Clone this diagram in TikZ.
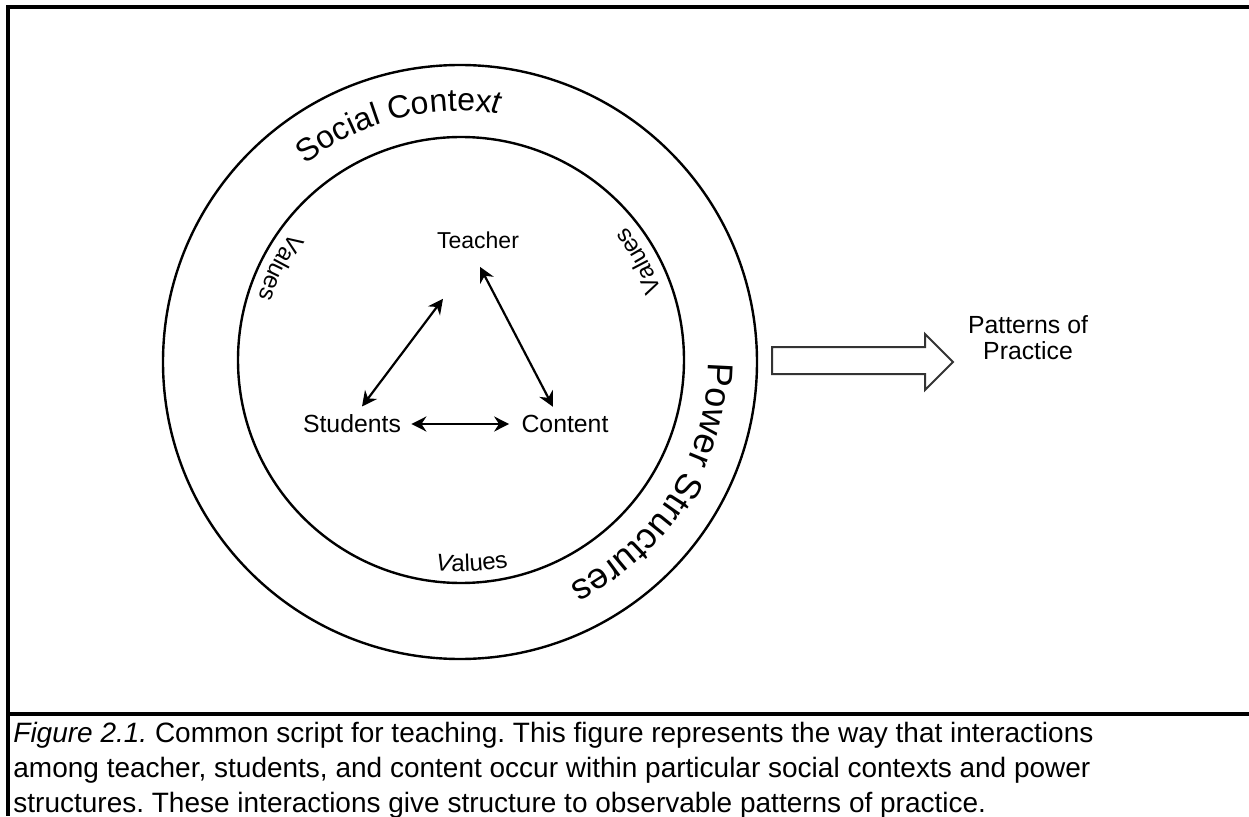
\documentclass[tikz,border=0pt]{standalone}
\usepackage{fontspec}
\setmainfont{Liberation Sans}
\usetikzlibrary{arrows.meta,decorations.text,calc}
\newcommand\ringfont{\fontsize{16}{18}\selectfont}
\newcommand\powerfont{\fontsize{18}{20}\selectfont}
\newcommand\valfont{\fontsize{12}{14}\selectfont}
\frenchspacing
\begin{document}
\begin{tikzpicture}[x=0.5pt,y=0.5pt,
  ring/.style={line width=1.2pt},
  lbl/.style={font=\fontsize{12.4}{14}\selectfont, inner sep=1pt},
  link/.style={line width=1.1pt, {Stealth[length=7.5pt,width=7.5pt]}-{Stealth[length=7.5pt,width=7.5pt]}},
  frame/.style={line width=2pt},
  bigarrow/.style={draw=black!80, line width=1pt, fill=white, line join=miter},
  ringtext/.style={decorate, decoration={text along path, text align=center, text={#1}}},
  captxt/.style={anchor=base west, inner sep=0pt, font=\fontsize{14}{17}\selectfont},
]
\useasboundingbox (0,0) rectangle (1249,816);

% outer frame and caption rule
\draw[frame] (1249,809) -- (8,809) -- (8,0);
\draw[frame] (6,102) -- (1249,102);

% the two rings
\coordinate (oc) at (460,454);
\coordinate (ic) at (461,456);
\draw[ring] (oc) circle[radius=297];
\draw[ring] (ic) circle[radius=223];

% labels in the outer ring (clockwise, letters facing outwards)
\path[ringtext={|\ringfont|Social Contex|\ringfont\itshape|t}]
  ($(oc)+(145:251)$) arc[start angle=145, end angle=64, radius=251];
\path[ringtext={|\powerfont|Power Structures}]
  ($(oc)+(14:248)$) arc[start angle=14, end angle=-78, radius=248];

% labels inside the inner ring (counter-clockwise, letters facing inwards)
\path[ringtext={|\valfont|Values}]
  ($(ic)+(138:212)$) arc[start angle=138, end angle=168, radius=212];
\path[ringtext={|\valfont|Values}]
  ($(ic)+(14:212)$) arc[start angle=14, end angle=44, radius=212];
\path[ringtext={|\valfont\itshape|V|\valfont|alues}]
  ($(ic)+(-105:212)$) arc[start angle=-105, end angle=-69, radius=212];

% the triad
\node[lbl, font=\fontsize{11.5}{13}\selectfont] (teacher) at (478,576) {Teacher};
\node[lbl] (students) at (352,392) {Students};
\node[lbl] (content)  at (565,392) {Content};
\draw[link] ($(teacher.south)+(-35,-48)$) -- ($(students.north)+(10,6)$);
\draw[link] ($(teacher.south)+(2,-16)$) -- ($(content.north)+(-12,6)$);
\draw[link, shorten <=4pt, shorten >=5pt] (students) -- (content);

% outcome
\node[lbl, align=center, font=\fontsize{12.4}{13}\selectfont] (patterns) at (1028,478) {Patterns of\\Practice};
\draw[bigarrow] (772,469) -- (925,469) -- (925,482) -- (953,454) -- (925,426) -- (925,442) -- (772,442) -- cycle;

% caption
\node[captxt] (cap1) at (13,74) {\textit{Figure 2.1.} Common script for teaching. This figure represents the way that interactions};
\node[captxt] (cap2) at (13,39) {among teacher, students, and content occur within particular social contexts and power};
\node[captxt] (cap3) at (13,4) {structures. These interactions give structure to observable patterns of practice.};
\end{tikzpicture}
\end{document}
